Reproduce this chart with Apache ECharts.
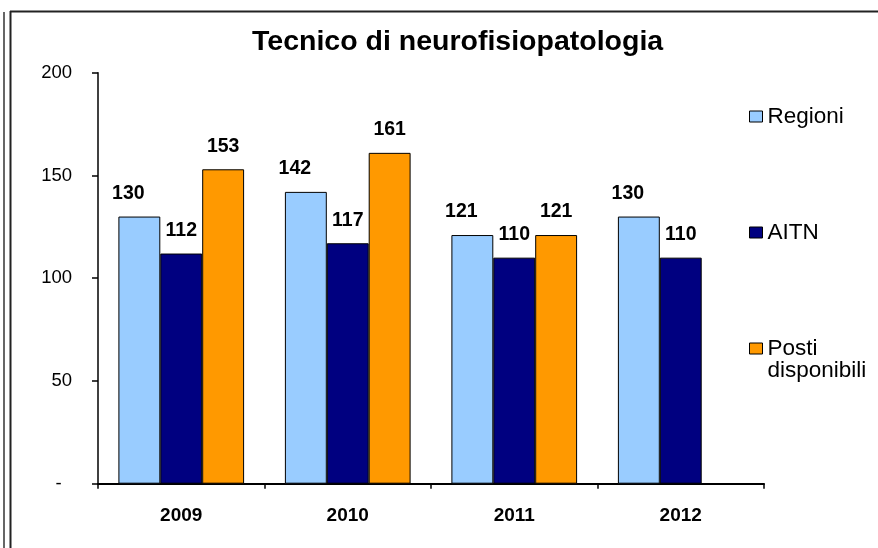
<!DOCTYPE html>
<html>
<head>
<meta charset="utf-8">
<script src="https://cdn.jsdelivr.net/npm/echarts@6/dist/echarts.min.js"></script>
<style>
html,body{margin:0;padding:0;background:#fff;}
#chart{width:878px;height:548px;}
</style>
</head>
<body>
<div id="chart"></div>
<script>
const titleText = 'Tecnico di neurofisiopatologia';
const categories = ['2009', '2010', '2011', '2012'];
const regioni = [130, 142, 121, 130];
const aitn = [112, 117, 110, 110];
const posti = [153, 161, 121, null];
const yTicks = [0, 50, 100, 150, 200];

const FONT = '"Liberation Sans", Arial, sans-serif';
const chart = echarts.init(document.getElementById('chart'), null, {renderer: 'canvas'});

const labelStyle = {
  show: true,
  position: 'top',
  distance: 13,
  color: '#000',
  fontFamily: FONT,
  fontWeight: 'bold',
  fontSize: 19.5
};
const barBorder = {borderColor: '#000', borderWidth: 1};
const legendText = {fontFamily: FONT, fontSize: 22.5, color: '#000', lineHeight: 22};

chart.setOption({
  animation: false,
  backgroundColor: '#fff',
  title: {
    text: titleText,
    left: 252,
    top: 28,
    padding: 0,
    textStyle: {fontFamily: FONT, fontWeight: 'bold', fontSize: 28.5, color: '#000'}
  },
  legend: [
    {
      data: [{name: 'Regioni', icon: 'rect'}],
      left: 749, top: 105, padding: 0, orient: 'vertical',
      itemWidth: 13, itemHeight: 11, itemGap: 0, selectedMode: false,
      itemStyle: {borderColor: '#000', borderWidth: 1},
      textStyle: legendText
    },
    {
      data: [{name: 'AITN', icon: 'rect'}],
      left: 749, top: 221, padding: 0, orient: 'vertical',
      itemWidth: 13, itemHeight: 11, itemGap: 0, selectedMode: false,
      itemStyle: {borderColor: '#000', borderWidth: 1},
      textStyle: legendText
    },
    {
      data: [{name: 'Posti disponibili', icon: 'path://M0,0L13,0L13,11L0,11Z M0,33'}],
      left: 749, top: 337, padding: 0, orient: 'vertical',
      itemWidth: 13, itemHeight: 33, itemGap: 0, selectedMode: false,
      formatter: function () { return 'Posti\ndisponibili'; },
      itemStyle: {borderColor: '#000', borderWidth: 1},
      textStyle: legendText
    }
  ],
  grid: {left: 98, right: 114, top: 72.7, bottom: 64.3, containLabel: false},
  xAxis: {
    type: 'category',
    data: categories,
    boundaryGap: true,
    axisLine: {show: true, lineStyle: {color: '#000', width: 2}},
    axisTick: {show: true, length: 5, interval: 0, lineStyle: {color: '#000', width: 1.5}},
    axisLabel: {margin: 23, color: '#000', fontFamily: FONT, fontWeight: 'bold', fontSize: 19, interval: 0}
  },
  yAxis: {
    type: 'value',
    min: yTicks[0],
    max: yTicks[yTicks.length - 1],
    interval: 50,
    splitLine: {show: false},
    axisLine: {show: true, lineStyle: {color: '#000', width: 1.5}},
    axisTick: {show: true, length: 6, lineStyle: {color: '#000', width: 1.5}},
    axisLabel: {
      margin: 26, color: '#000', fontFamily: FONT, fontSize: 18.5,
      formatter: function (v) { return v === 0 ? '-  ' : String(v); }
    }
  },
  series: [
    {
      name: 'Regioni', type: 'bar', data: regioni,
      barGap: '0%', barCategoryGap: '24.5%',
      itemStyle: Object.assign({color: '#99CCFF'}, barBorder),
      label: Object.assign({offset: [-11, 0]}, labelStyle)
    },
    {
      name: 'AITN', type: 'bar', data: aitn,
      barGap: '0%', barCategoryGap: '24.5%',
      itemStyle: Object.assign({color: '#000080'}, barBorder),
      label: Object.assign({}, labelStyle)
    },
    {
      name: 'Posti disponibili', type: 'bar', data: posti,
      barGap: '0%', barCategoryGap: '24.5%',
      itemStyle: Object.assign({color: '#FF9900'}, barBorder),
      label: Object.assign({}, labelStyle)
    }
  ],
  graphic: [
    {type: 'line', shape: {x1: 4, y1: 12, x2: 4, y2: 548}, style: {stroke: '#333', lineWidth: 1.5}, silent: true},
    {type: 'line', shape: {x1: 10.5, y1: 11, x2: 10.5, y2: 548}, style: {stroke: '#222', lineWidth: 2}, silent: true},
    {type: 'line', shape: {x1: 10, y1: 11.5, x2: 878, y2: 11.5}, style: {stroke: '#222', lineWidth: 2}, silent: true}
  ]
});
</script>
</body>
</html>
